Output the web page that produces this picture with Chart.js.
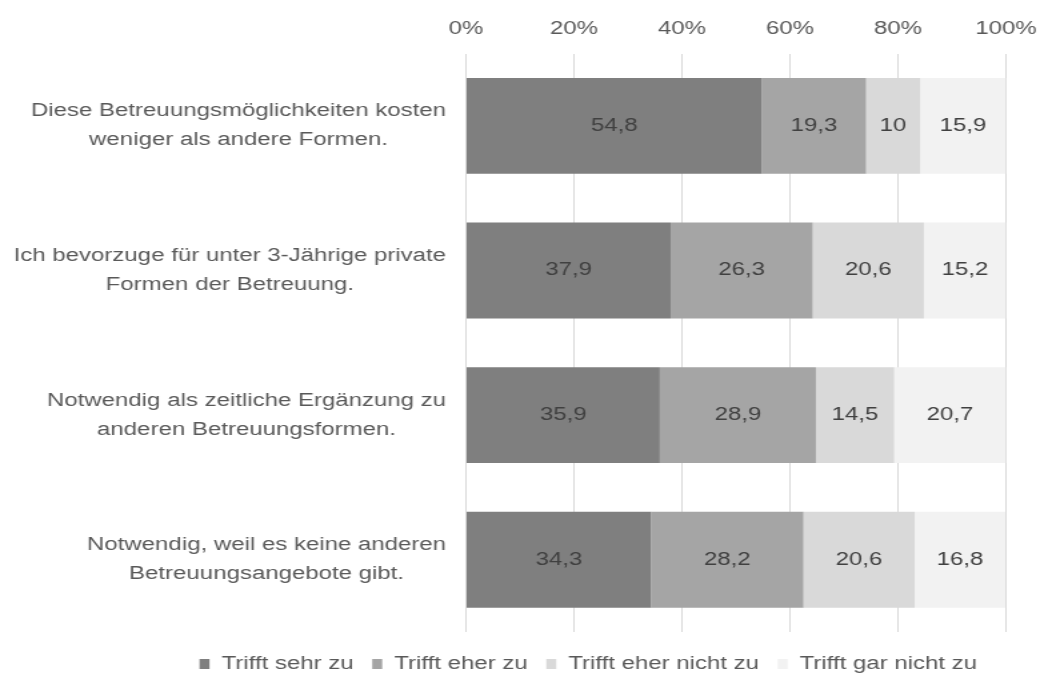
<!DOCTYPE html>
<html>
<head>
<meta charset="utf-8">
<script src="https://cdn.jsdelivr.net/npm/chart.js@4"></script>
<style>
  html, body { margin: 0; padding: 0; background: #fff; overflow: hidden; }
  #wrap { width: 1040px; height: 684px; overflow: hidden; }
  /* die Vorlage ist horizontal gestreckt: 780px logisch -> 1040px */
  #chart { transform: scaleX(1.33333); transform-origin: 0 0; }
</style>
</head>
<body>
<div id="wrap"><canvas id="chart" width="780" height="684"></canvas></div>
<script>
// Aussagen (y-Achse), jeweils zweizeilig
const categories = [
  ['Diese Betreuungsmöglichkeiten kosten', 'weniger als andere Formen.'],
  ['Ich bevorzuge für unter 3-Jährige private', 'Formen der Betreuung.'],
  ['Notwendig als zeitliche Ergänzung zu', 'anderen Betreuungsformen.'],
  ['Notwendig, weil es keine anderen', 'Betreuungsangebote gibt.']
];
const seriesNames = ['Trifft sehr zu', 'Trifft eher zu', 'Trifft eher nicht zu', 'Trifft gar nicht zu'];
const sehrZu = [54.8, 37.9, 35.9, 34.3];
const eherZu = [19.3, 26.3, 28.9, 28.2];
const eherNicht = [10, 20.6, 14.5, 20.6];
const garNicht = [15.9, 15.2, 20.7, 16.8];
const tickValues = [0, 20, 40, 60, 80, 100];

const colors = ['#7f7f7f', '#a5a5a5', '#d9d9d9', '#f2f2f2'];
const textColor = '#595959';
const fontFamily = '"Liberation Sans", Arial, sans-serif';

// Beschriftungen links, jede Zeile zentriert
const catLabels = {
  id: 'catLabels',
  afterDraw(chart) {
    const ctx = chart.ctx;
    const y = chart.scales.y;
    ctx.save();
    ctx.font = '18px ' + fontFamily;
    ctx.fillStyle = textColor;
    ctx.textAlign = 'center';
    ctx.textBaseline = 'middle';
    categories.forEach((lines, i) => {
      const cy = y.getPixelForValue(i);
      const w = Math.max(...lines.map(l => ctx.measureText(l).width));
      const cx = chart.chartArea.left - 15 - w / 2;
      const lh = 29;
      lines.forEach((l, k) => {
        ctx.fillText(l, cx, cy + (k - (lines.length - 1) / 2) * lh);
      });
    });
    ctx.restore();
  }
};

// Werte in den Balken
const valueLabels = {
  id: 'valueLabels',
  afterDatasetsDraw(chart) {
    const ctx = chart.ctx;
    ctx.save();
    ctx.font = '18px ' + fontFamily;
    ctx.fillStyle = '#404040';
    ctx.textAlign = 'center';
    ctx.textBaseline = 'middle';
    chart.data.datasets.forEach((ds, i) => {
      chart.getDatasetMeta(i).data.forEach((bar, j) => {
        const p = bar.getCenterPoint();
        ctx.fillText(String(ds.data[j]).replace('.', ','), p.x, p.y);
      });
    });
    ctx.restore();
  }
};

new Chart(document.getElementById('chart'), {
  type: 'bar',
  data: {
    labels: categories,
    datasets: [sehrZu, eherZu, eherNicht, garNicht].map((d, i) => ({
      label: seriesNames[i],
      data: d,
      backgroundColor: colors[i],
      borderWidth: 0,
      barPercentage: 0.663,
      categoryPercentage: 1
    }))
  },
  options: {
    indexAxis: 'y',
    responsive: false,
    animation: false,
    layout: { padding: { left: 128, right: 25.5, top: 4, bottom: 1 } },
    plugins: {
      legend: {
        position: 'bottom',
        labels: {
          boxWidth: 7.5,
          boxHeight: 10,
          padding: 14,
          color: textColor,
          font: { size: 18, family: fontFamily }
        }
      },
      tooltip: { enabled: false }
    },
    scales: {
      x: {
        position: 'top',
        stacked: true,
        min: 0,
        max: 100,
        afterBuildTicks: (scale) => { scale.ticks = tickValues.map(v => ({ value: v })); },
        afterFit: (scale) => { scale.paddingLeft = 0; scale.paddingRight = 0; },
        border: { display: false },
        grid: { color: '#d9d9d9', drawTicks: false },
        ticks: {
          padding: 14,
          color: textColor,
          font: { size: 18, family: fontFamily },
          callback: (v) => v + '%'
        }
      },
      xb: {
        position: 'bottom',
        axis: 'x',
        min: 0,
        max: 100,
        border: { display: false },
        grid: { display: false },
        ticks: { display: false },
        afterFit: (scale) => { scale.height = 9; }
      },
      y: {
        stacked: true,
        border: { display: false },
        grid: { display: false },
        ticks: { display: false },
        afterFit: (scale) => { scale.width = 221.5; }
      }
    }
  },
  plugins: [catLabels, valueLabels]
});
</script>
</body>
</html>
